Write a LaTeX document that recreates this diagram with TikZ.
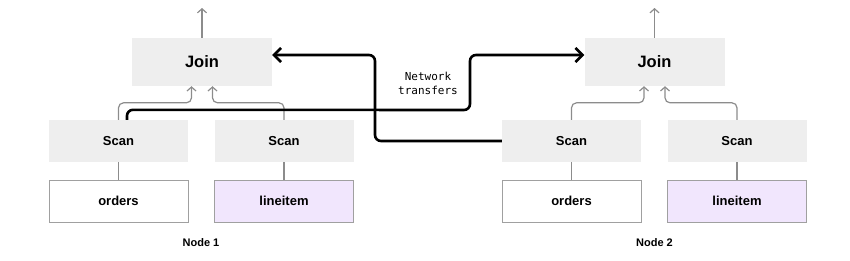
\documentclass[tikz,border=0pt]{standalone}
\usepackage{fontspec}
\setmainfont{Liberation Sans}
\setmonofont{DejaVu Sans Mono}
\usetikzlibrary{arrows.meta,calc}
\definecolor{boxgray}{HTML}{EEEEEE}
\definecolor{edgegray}{HTML}{A0A0A0}
\definecolor{linegray}{HTML}{8C8C8C}
\definecolor{lilac}{HTML}{F1E6FD}
\tikzset{
  joinbox/.style={fill=boxgray, draw=none, minimum width=140pt, minimum height=48pt, inner sep=0pt, font=\fontsize{16.5}{18}\selectfont\bfseries},
  scanbox/.style={fill=boxgray, draw=none, minimum width=139pt, minimum height=42pt, inner sep=0pt, font=\fontsize{13}{15}\selectfont\bfseries},
  tablebox/.style={fill=white, draw=edgegray, line width=1pt, minimum width=139pt, minimum height=42pt, inner sep=0pt, font=\fontsize{13}{15}\selectfont\bfseries},
  purplebox/.style={tablebox, fill=lilac},
  caption/.style={font=\fontsize{11}{13}\selectfont\bfseries},
  netlabel/.style={font=\fontsize{11}{14}\selectfont\ttfamily, align=center},
  grayline/.style={draw=linegray, line width=1.2pt},
  grayarrow/.style={grayline, -{Straight Barb[length=4pt,width=9pt,line width=1.2pt]}, rounded corners=5pt},
  blackarrow/.style={draw=black, line width=2.6pt, -{Straight Barb[length=7pt,width=14pt,line width=2.6pt]}, rounded corners=6pt},
}
\begin{document}
\begin{tikzpicture}[x=1pt,y=-1pt]
\useasboundingbox (0,0) rectangle (850,260);
% Node 1
\node[joinbox] (join1) at (202,62) {Join};
\node[scanbox] (scanA1) at (118.5,141) {Scan};
\node[scanbox] (scanB1) at (284,141) {Scan};
\node[tablebox] (ordA1) at (118.5,201) {orders};
\node[purplebox] (liB1) at (284,201) {lineitem};
\node[caption] (cap1) at (201,243) {Node 1};
\coordinate (out1) at (202,8);
% Node 2
\node[joinbox] (join2) at (654.5,62) {Join};
\node[scanbox] (scanA2) at (571.5,141) {Scan};
\node[scanbox] (scanB2) at (737,141) {Scan};
\node[tablebox] (ordA2) at (571.5,201) {orders};
\node[purplebox] (liB2) at (737,201) {lineitem};
\node[caption] (cap2) at (654.5,243) {Node 2};
\coordinate (out2) at (654.5,8);
% label
\node[netlabel] (net) at (428,83) {Network\\transfers};
% gray connectors
\draw[grayline] (scanA1) -- (ordA1);
\draw[grayline] (scanB1) -- (liB1);
\draw[grayline] (scanA2) -- (ordA2);
\draw[grayline] (scanB2) -- (liB2);
\draw[grayarrow] (join1.north) -- (out1);
\draw[grayarrow] (join2.north) -- (out2);
\draw[grayarrow] (scanA1.north) -- ++(0,-17) -| ([xshift=-10.5pt]join1.south);
\draw[grayarrow] (scanB1.north) -- ++(0,-17) -| ([xshift=10.5pt]join1.south);
\draw[grayarrow] (scanA2.north) -- ++(0,-17) -| ([xshift=-10.5pt]join2.south);
\draw[grayarrow] (scanB2.north) -- ++(0,-17) -| ([xshift=10.5pt]join2.south);
% network transfers
\draw[blackarrow] ([xshift=8.5pt]scanA1.north) -- ++(0,-10) -- (470,110) -- (470,55) -- ([yshift=7pt]join2.west);
\draw[blackarrow] (scanA2.west) -- (375,141) -- (375,55) -- ([yshift=7pt]join1.east);
\end{tikzpicture}
\end{document}
